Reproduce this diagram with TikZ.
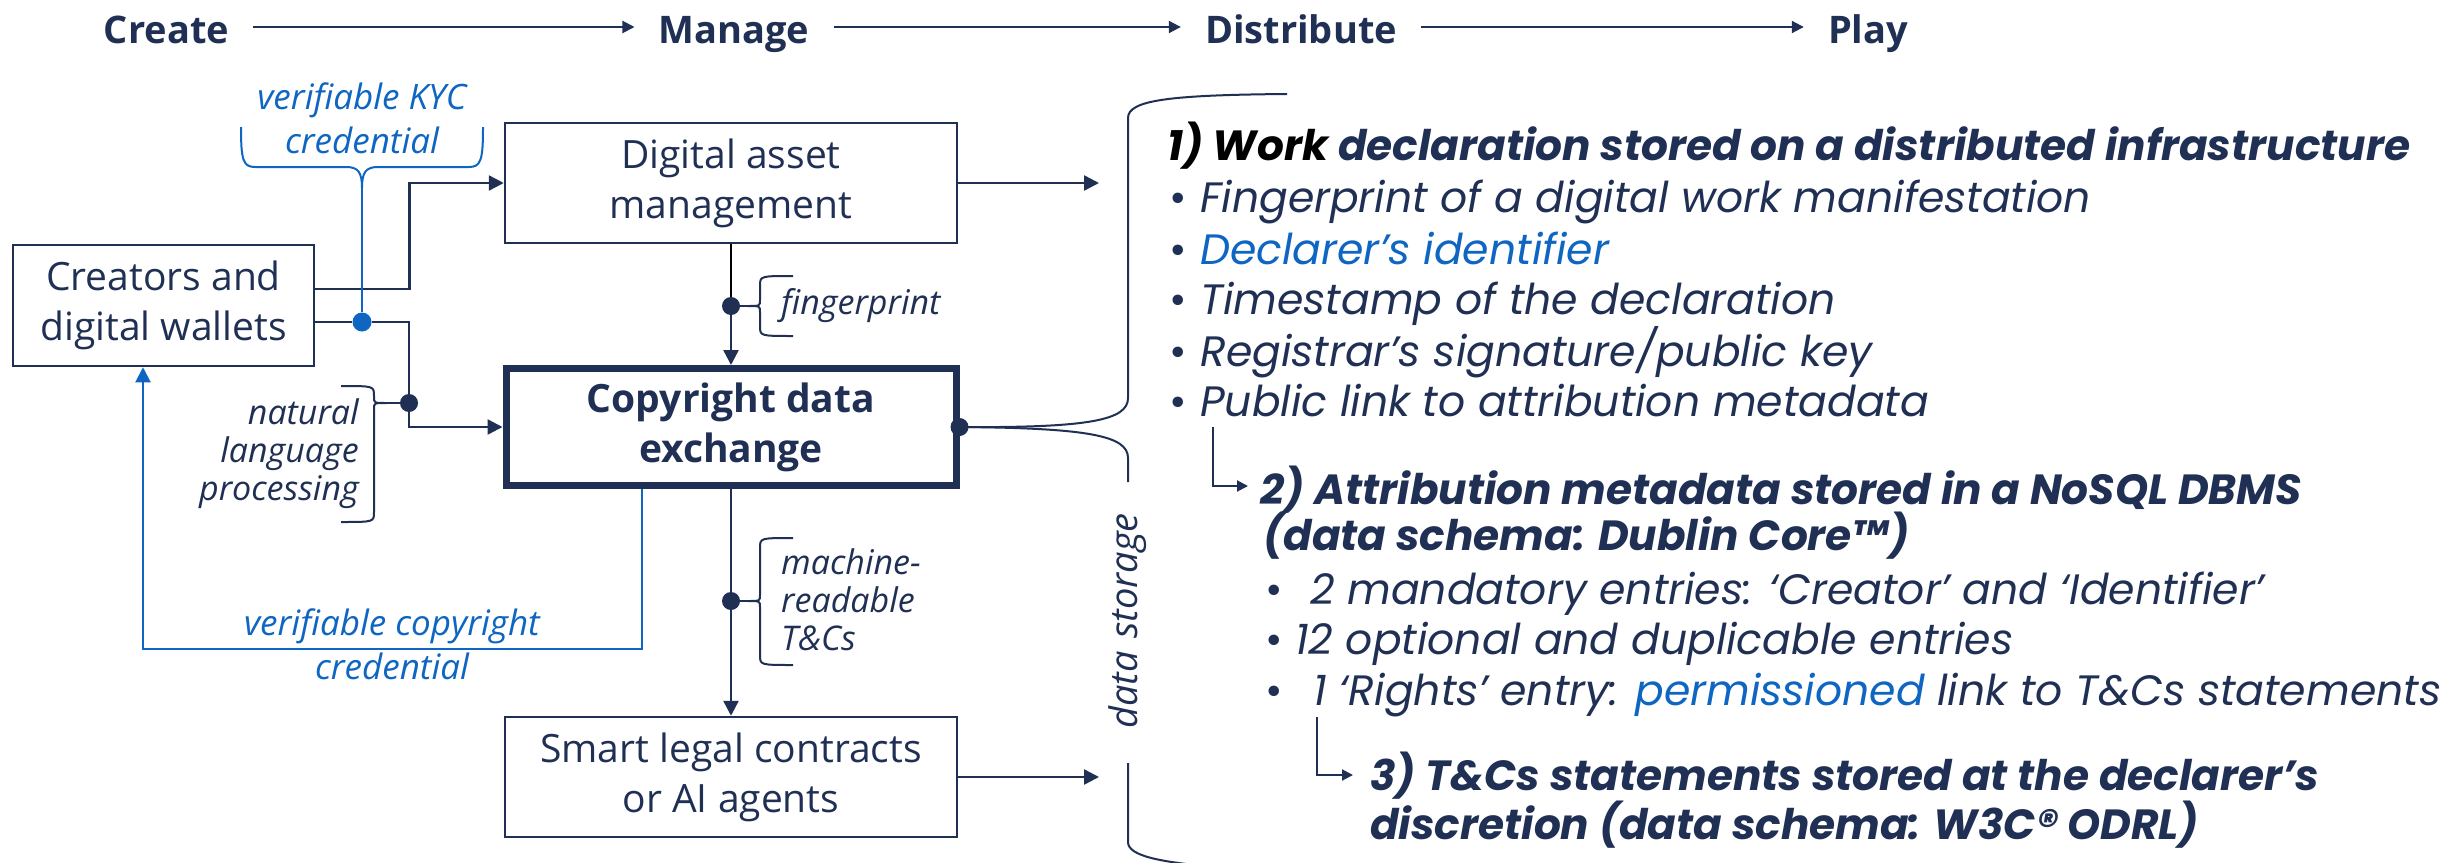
\documentclass[tikz,border=0pt]{standalone}
\usepackage{fontspec}
\setmainfont{Open Sans}
\newfontfamily\pop{Poppins}
\usetikzlibrary{arrows.meta,calc}
\definecolor{navy}{RGB}{32,48,84}
\definecolor{kblue}{RGB}{14,102,194}
\newcommand\mybrace[7]{% xv, xarm, ytop, ytip, ybot, xtip, dot
  \draw[brc] (#2,#3) .. controls (#1,#3) .. (#1,#3+10) -- (#1,#4-6)
    .. controls (#1,#4) .. (#6,#4) .. controls (#1,#4) .. (#1,#4+6)
    -- (#1,#5-10) .. controls (#1,#5) .. (#2,#5);
  \draw[brc] (#6,#4) -- (#7);}
\begin{document}
\begin{tikzpicture}[x=1pt,y=-1pt,
  every node/.style={inner sep=0pt,text=navy},
  box/.style={draw=navy,line width=2.5pt,minimum width=452pt,minimum height=120pt,
    align=center,font=\fontsize{39}{50}\selectfont},
  thickbox/.style={box,line width=7pt,minimum width=450pt,minimum height=117pt,
    font=\bfseries\fontsize{39}{50}\selectfont},
  conn/.style={draw=navy,line width=2.5pt},
  arr/.style={conn,-{Triangle[length=15pt,width=15pt]}},
  barr/.style={draw=kblue,line width=2pt,-{Triangle[length=15pt,width=15pt]}},
  harr/.style={draw=navy,line width=2pt,-{Triangle[length=12pt,width=12pt]},shorten <=24pt,shorten >=24pt},
  sarr/.style={draw=navy,line width=2pt,-{Triangle[length=11pt,width=11pt]}},
  brc/.style={draw=navy,line width=2pt},
  dot/.style={circle,fill=navy,minimum size=18pt,inner sep=0pt},
  bdot/.style={circle,fill=kblue,minimum size=19pt,inner sep=0pt},
  lbl/.style={font=\itshape\fontsize{34}{38}\selectfont},
  blbl/.style={font=\itshape\fontsize{35}{44}\selectfont,text=kblue,align=center},
  hdr/.style={font=\bfseries\fontsize{38}{40}\selectfont,text height=32pt,text depth=0pt},
  ptx/.style={font=\pop\itshape\fontsize{42.5}{51}\selectfont,anchor=base west},
  phd/.style={font=\pop\bfseries\itshape\fontsize{42.2}{51}\selectfont,anchor=base west},
]
\fill[white] (0,0) rectangle (2456,862);
\useasboundingbox (0,0) rectangle (2456,862);

% header
\node[hdr] (create) at (166.5,27) {Create};
\node[hdr] (manage) at (734,27) {Manage};
\node[hdr] (distr) at (1301,27) {Distribute};
\node[hdr] (play) at (1868,27) {Play};
\draw[harr] (create.east) -- (manage.west);
\draw[harr] (manage.east) -- (distr.west);
\draw[harr] (distr.east) -- (play.west);

% boxes
\node[box,minimum width=301pt,minimum height=121pt] (creators) at (163.5,305.5) {Creators and\\digital wallets};
\node[box] (dam) at (731,183) {Digital asset\\management};
\node[thickbox] (cde) at (731,427) {Copyright data\\exchange};
\node[box] (slc) at (731,777) {Smart legal contracts\\or AI agents};

% dots
\node[dot] (d1) at (731,306) {};
\node[dot] (d2) at (731,601) {};
\node[dot] (ndot) at (409,403) {};
\node[bdot] (kdot) at (362,322) {};
\node[dot] (cdot) at (cde.east) {};

% connectors
\draw[arr] ([yshift=16.5pt]creators.east) -- ++(94,0) |- (dam.west);
\draw[conn] ([yshift=-16.5pt]creators.east) -- (kdot);
\draw[arr] (kdot) -| (ndot) |- (cde.west);
\draw[draw=black,line width=2pt] (dam.south) -- (d1);
\draw[arr] (d1) -- (cde.north);
\draw[conn] (cde.south) -- (d2);
\draw[arr] (d2) -- (slc.north);
\coordinate (e1) at (1099,183);
\coordinate (e2) at (1099,777);
\draw[arr] (dam.east) -- (e1);
\draw[arr] (slc.east) -- (e2);
\draw[barr] ([xshift=-89.5pt]cde.south) -- ++(0,160) -| ([xshift=-20.5pt]creators.south);

% labels
\node[blbl] (kyc) at (362,118) {verifiable KYC\\credential};
\node[blbl] (vcc) at (392,644) {verifiable copyright\\credential};
\node[lbl,align=right,anchor=east] (nlp) at (359,454) {natural\\language\\processing};
\node[lbl,anchor=west] (fp) at (781,306) {fingerprint};
\node[lbl,align=left,anchor=west] (mr) at (781,600) {machine-\\readable\\T\&Cs};

% braces
\draw[draw=kblue,line width=2pt] (241,127) .. controls (241,160) and (243,167) .. (255,167) -- (346,167)
  .. controls (358,167) and (362,172) .. (362,188) .. controls (362,172) and (366,167) .. (378,167)
  -- (469,167) .. controls (481,167) and (483,160) .. (483,127);
\draw[draw=kblue,line width=2pt] (362,188) -- (kdot);
\mybrace{760}{793}{276}{306}{336}{748}{d1}
\mybrace{760}{793}{538}{601}{665}{748}{d2}
\mybrace{374}{341}{386}{403}{522}{386}{ndot}

% big brace
\draw[conn,line width=2pt] (cdot.center) .. controls (1090,428) and (1128,420) .. (1128,398)
  -- (1128,118) .. controls (1128,100) and (1170,95) .. (1287,94);
\draw[conn,line width=2pt] (cdot.center) .. controls (1090,428) and (1128,436) .. (1128,458) -- (1128,482);
\draw[conn,line width=2pt] (1128,763) -- (1128,842) .. controls (1128,856) and (1160,862) .. (1215,867);
\node[rotate=90,font=\itshape\fontsize{38}{40}\selectfont] (ds) at (1128,621) {data\,\,storage};

% right text
\node[phd] (h1) at (1167,160) {{\color{black}1) Work} declaration stored on a distributed infrastructure};
\node[ptx] (l1) at (1200,212) {\llap{\makebox[31pt][l]{\upshape•}}Fingerprint of a digital work manifestation};
\node[ptx,text=kblue] (l2) at (1200,264) {\llap{\makebox[31pt][l]{\color{navy}\upshape•}}Declarer’s identifier};
\node[ptx] (l3) at (1200,314) {\llap{\makebox[31pt][l]{\upshape•}}Timestamp of the declaration};
\node[ptx] (l4) at (1200,366) {\llap{\makebox[31pt][l]{\upshape•}}Registrar’s signature/public key};
\node[ptx] (l5) at (1200,416) {\llap{\makebox[31pt][l]{\upshape•}}Public link to attribution metadata};
\node[phd] (h2a) at (1260,504) {2) Attribution metadata stored in a NoSQL DBMS};
\node[phd] (h2b) at (1263,550) {(data schema: Dublin Core™)};
\node[ptx] (m1) at (1310,604) {\llap{\makebox[45pt][l]{\upshape•}}2 mandatory entries: ‘Creator’ and ‘Identifier’};
\node[ptx] (m2) at (1295,654) {\llap{\makebox[30pt][l]{\upshape•}}12 optional and duplicable entries};
\node[ptx] (m3) at (1313,705) {\llap{\makebox[48pt][l]{\upshape•}}1 ‘Rights’ entry: {\color{kblue}permissioned} link to T\&Cs statements};
\node[phd] (h3a) at (1370,790) {3) T\&Cs statements stored at the declarer’s};
\node[phd] (h3b) at (1370,839) {discretion (data schema: W3C® ODRL)};
\draw[sarr,shorten >=12pt] ([xshift=13pt,yshift=-11pt]l5.base west) |- ([yshift=18pt]h2a.base west);
\draw[sarr,shorten >=17pt] ([xshift=4pt,yshift=-12pt]m3.base west) |- ([yshift=15pt]h3a.base west);
\end{tikzpicture}
\end{document}
